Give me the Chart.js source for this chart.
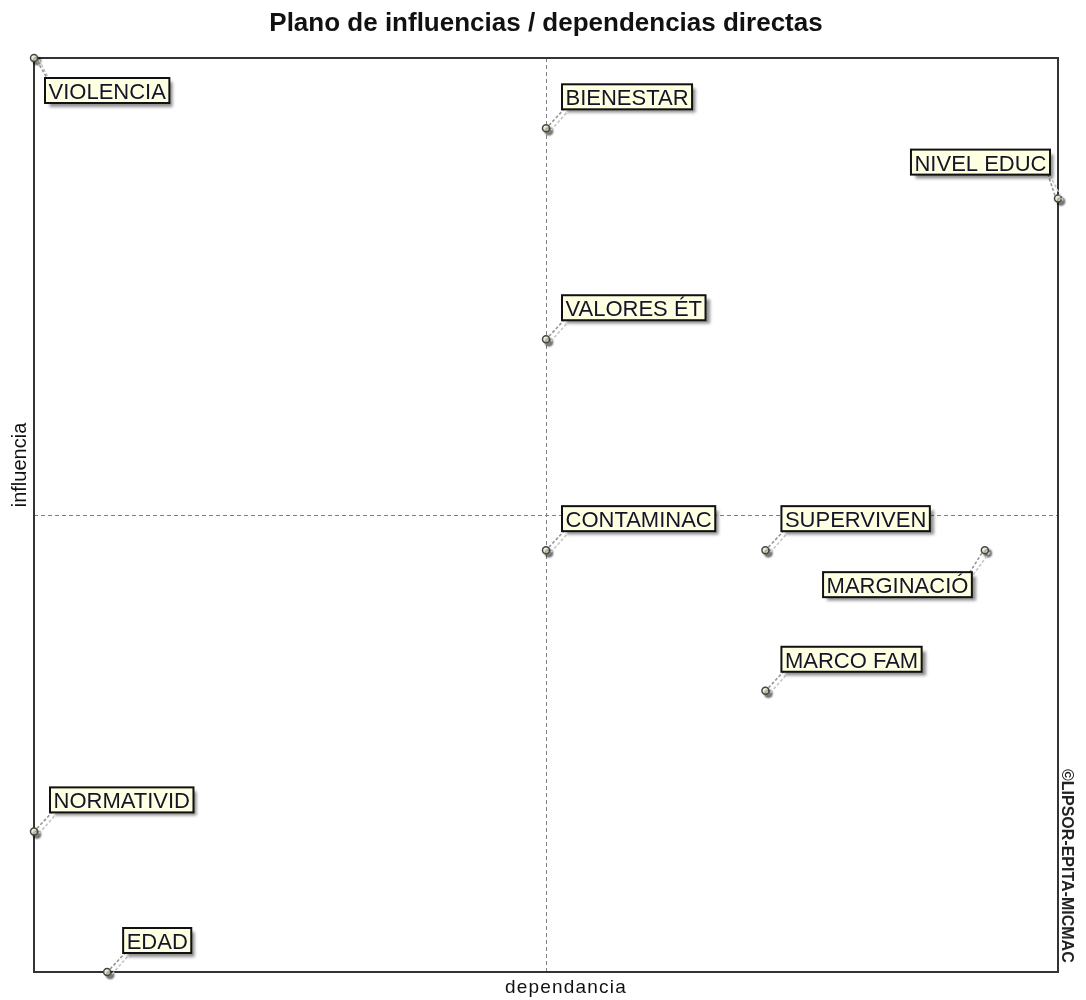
<!DOCTYPE html>
<html>
<head>
<meta charset="utf-8">
<script src="https://cdn.jsdelivr.net/npm/chart.js@4/dist/chart.umd.min.js"></script>
<style>
  html, body { margin: 0; padding: 0; background: #ffffff; }
  #wrap { width: 1086px; height: 1000px; }
</style>
</head>
<body>
<div id="wrap"><canvas id="c" width="1086" height="1000"></canvas></div>
<script>
// ---- data ----
const variables = ["VIOLENCIA", "BIENESTAR", "NIVEL EDUC", "VALORES ÉT", "CONTAMINAC", "SUPERVIVEN", "MARGINACIÓ", "MARCO FAM", "NORMATIVID", "EDAD"];
const dependencia = [2, 9, 16, 9, 9, 12, 15, 12, 2, 3];
const influencia = [16, 15, 14, 12, 9, 9, 9, 7, 5, 3];
const labelSide = ["dr", "ur", "ul", "ur", "ur", "ur", "dl", "ur", "ur", "ur"];
const xRange = [2, 16];
const yRange = [3, 16];
const dividers = { x: 9, y: 9.5 };
const chartTitle = "Plano de influencias / dependencias directas";
const xTitle = "dependancia";
const yTitle = "influencia";
const copyright = "©LIPSOR-EPITA-MICMAC";

const FONT = "'Liberation Sans', Arial, sans-serif";

const points = dependencia.map((d, i) => ({ x: d, y: influencia[i] }));

const micmacPlugin = {
  id: 'micmac',
  beforeDatasetsDraw(chart) {
    const { ctx, chartArea: a, scales: { x, y } } = chart;
    ctx.save();
    ctx.strokeStyle = '#808080';
    ctx.lineWidth = 1;
    ctx.setLineDash([4, 3]);
    const dx = Math.round(x.getPixelForValue(dividers.x)) + 0.5;
    const dy = Math.round(y.getPixelForValue(dividers.y)) + 0.5;
    ctx.beginPath();
    ctx.moveTo(dx, a.top); ctx.lineTo(dx, a.bottom);
    ctx.moveTo(a.left, dy); ctx.lineTo(a.right, dy);
    ctx.stroke();
    ctx.setLineDash([]);
    ctx.strokeStyle = '#333333';
    ctx.lineWidth = 2;
    ctx.strokeRect(a.left, a.top, a.right - a.left, a.bottom - a.top);
    ctx.restore();
  },
  beforeDatasetDraw(chart) {
    const ctx = chart.ctx;
    ctx.save();
    ctx.shadowColor = 'rgba(0,0,0,0.5)';
    ctx.shadowOffsetX = 3;
    ctx.shadowOffsetY = 3;
    ctx.shadowBlur = 2;
  },
  afterDatasetDraw(chart) {
    chart.ctx.restore();
  },
  afterDatasetsDraw(chart) {
    const { ctx, scales: { x, y } } = chart;
    ctx.save();
    ctx.font = '22px ' + FONT;
    ctx.textBaseline = 'alphabetic';
    const boxH = 25;
    variables.forEach((name, i) => {
      const px = x.getPixelForValue(dependencia[i]);
      const py = y.getPixelForValue(influencia[i]);
      const tw = ctx.measureText(name).width;
      const boxW = tw + 7;
      let left, top, cx, cy, sx, sy;
      switch (labelSide[i]) {
        case 'dr':
          left = px + 11; top = py + 20;
          cx = left + 2; cy = top; sx = 1; sy = 1; break;
        case 'ul':
          left = px - 8 - boxW; top = py - 24 - boxH;
          cx = left + boxW - 2; cy = top + boxH; sx = -1; sy = -1; break;
        case 'dl':
          left = px - 13 - boxW; top = py + 22;
          cx = left + boxW - 2; cy = top; sx = -1; sy = 1; break;
        default:
          left = px + 16; top = py - 19 - boxH;
          cx = left + 2; cy = top + boxH; sx = 1; sy = -1;
      }
      ctx.lineWidth = 1.6;
      ctx.setLineDash([3, 2]);
      ctx.strokeStyle = '#c4c4c4';
      ctx.beginPath();
      ctx.moveTo(px + 3 + 2, py + 2); ctx.lineTo(cx + 3, cy + 3);
      ctx.stroke();
      ctx.strokeStyle = '#959595';
      ctx.beginPath();
      ctx.moveTo(px + sx * 3, py + sy * 3); ctx.lineTo(cx, cy);
      ctx.stroke();
      ctx.setLineDash([]);
      ctx.save();
      ctx.shadowColor = 'rgba(0,0,0,0.45)';
      ctx.shadowOffsetX = 4;
      ctx.shadowOffsetY = 4;
      ctx.shadowBlur = 3;
      ctx.fillStyle = '#ffffe1';
      ctx.fillRect(left, top, boxW, boxH);
      ctx.restore();
      ctx.strokeStyle = '#111111';
      ctx.lineWidth = 2;
      ctx.strokeRect(left, top, boxW, boxH);
      ctx.fillStyle = '#14142a';
      ctx.textAlign = 'left';
      ctx.fillText(name, left + 3.5, top + boxH - 4);
    });
    ctx.restore();
  },
  afterDraw(chart) {
    const { ctx } = chart;
    ctx.save();
    ctx.fillStyle = '#111111';
    ctx.textBaseline = 'alphabetic';
    ctx.font = 'bold 26px ' + FONT;
    ctx.textAlign = 'center';
    ctx.fillText(chartTitle, 546, 31);
    ctx.font = '19px ' + FONT;
    ctx.letterSpacing = '1.2px';
    ctx.fillText(xTitle, 566, 993);
    ctx.letterSpacing = '0px';
    ctx.save();
    ctx.translate(26, 465);
    ctx.rotate(-Math.PI / 2);
    ctx.font = '20px ' + FONT;
    ctx.textAlign = 'center';
    ctx.fillText(yTitle, 0, 0);
    ctx.restore();
    ctx.save();
    ctx.translate(1062, 769);
    ctx.rotate(Math.PI / 2);
    ctx.font = 'bold 16px ' + FONT;
    ctx.textAlign = 'left';
    ctx.fillStyle = '#222222';
    ctx.fillText(copyright, 0, 0);
    ctx.restore();
    ctx.restore();
  }
};

new Chart(document.getElementById('c'), {
  type: 'scatter',
  data: {
    datasets: [{
      data: points,
      pointRadius: 3.5,
      pointHoverRadius: 3.5,
      pointBackgroundColor: '#f4f4dc',
      pointBorderColor: '#444444',
      pointBorderWidth: 1.5,
      clip: false
    }]
  },
  options: {
    responsive: false,
    animation: false,
    events: [],
    layout: { padding: { left: 34, right: 28, top: 58, bottom: 28 } },
    plugins: { legend: { display: false }, tooltip: { enabled: false }, title: { display: false } },
    scales: {
      x: { type: 'linear', display: false, min: xRange[0], max: xRange[1] },
      y: { type: 'linear', display: false, min: yRange[0], max: yRange[1] }
    }
  },
  plugins: [micmacPlugin]
});
</script>
</body>
</html>
